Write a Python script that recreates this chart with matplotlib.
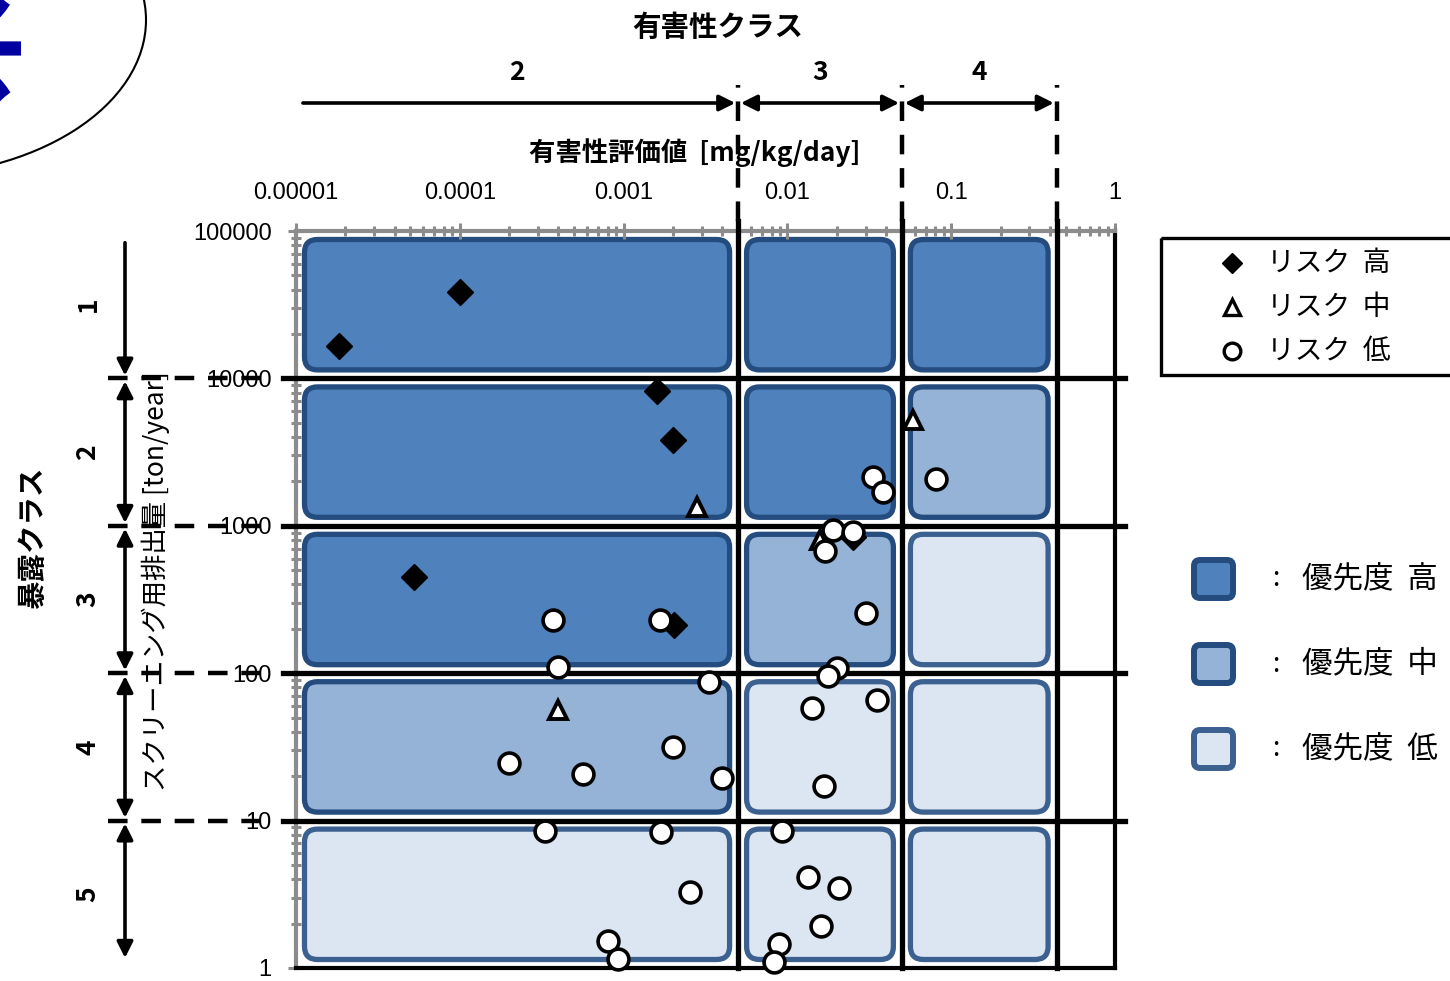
import numpy as np
import matplotlib
matplotlib.use("Agg")
import matplotlib.pyplot as plt
from matplotlib.patches import FancyBboxPatch, Ellipse, Rectangle
from matplotlib.transforms import IdentityTransform, blended_transform_factory

plt.rcParams["font.family"] = ["Noto Sans CJK JP", "DejaVu Sans"]

# hazard value [mg/kg/day] and screening emission [ton/year] per substance
high_x = [1.83e-5, 1.0e-4, 1.6e-3, 2.0e-3, 5.25e-5, 2.03e-3, 0.0251]
high_y = [16600, 38500, 8200, 3820, 450, 212, 840]

mid_x = [2.81e-3, 3.98e-4, 0.0585, 0.0158]
mid_y = [1343, 56, 5220, 802]

low_x = [3.71e-4, 1.67e-3, 3.98e-4, 3.32e-3, 2.0e-3, 2.0e-4, 5.65e-4, 3.99e-3,
         3.31e-4, 1.69e-3, 2.54e-3, 8.04e-4, 9.25e-4,
         0.0333, 0.0384, 0.0807, 0.0190, 0.0251, 0.0170, 0.0302, 0.0201,
         0.0177, 0.0141, 0.0352, 0.0167,
         9.27e-3, 0.01337, 0.02066, 0.01603, 8.89e-3, 8.28e-3]
low_y = [230, 230, 110, 87, 31.6, 24.6, 20.7, 19.5,
         8.5, 8.4, 3.28, 1.52, 1.15,
         2140, 1694, 2080, 937, 908, 675, 256, 108,
         95.7, 58, 65.8, 17.2,
         8.5, 4.14, 3.49, 1.93, 1.46, 1.10]

hazard_bounds = [1e-5, 0.005, 0.05, 0.44]
hazard_classes = ["2", "3", "4"]
exposure_bounds = [1e5, 1e4, 1e3, 100, 10, 1]
exposure_classes = ["1", "2", "3", "4", "5"]

# priority per cell (rows: exposure class, cols: hazard class) 0=high 1=mid 2=low
priority = [
    [0, 0, 0],
    [0, 0, 1],
    [0, 1, 2],
    [1, 2, 2],
    [2, 2, 2],
]
priority_fill = ["#4F81BD", "#95B3D7", "#DCE6F2"]
priority_edge = ["#244C7E", "#244C7E", "#3C6190"]
priority_labels = ["優先度  高", "優先度  中", "優先度  低"]
risk_labels = ["リスク  高", "リスク  中", "リスク  低"]

W, H = 1450, 981
fig = plt.figure(figsize=(W / 100, H / 100), dpi=100)
ax = fig.add_axes([296 / W, 1 - 968 / H, 819 / W, 737 / H])
ax.set_xscale("log")
ax.set_yscale("log")
ax.set_xlim(1e-5, 1)
ax.set_ylim(1, 1e5)
ax.set_facecolor("none")

gray = "#8C8C8C"
ax.xaxis.tick_top()
ax.set_xticks([1e-5, 1e-4, 1e-3, 1e-2, 1e-1, 1])
ax.set_xticklabels([np.format_float_positional(v, trim="-") for v in [1e-5, 1e-4, 1e-3, 1e-2, 1e-1, 1]])
ax.set_yticks([1, 10, 100, 1e3, 1e4, 1e5])
ax.set_yticklabels(["1", "10", "100", "1000", "10000", "100000"])
ax.tick_params(which="both", direction="inout", color=gray, width=2.2,
               labelsize=17, labelfontfamily="Liberation Sans")
ax.tick_params(which="major", length=11)
ax.tick_params(which="minor", length=7)
ax.tick_params(axis="x", pad=14)
ax.tick_params(axis="y", pad=12)
for side in ["top", "left"]:
    ax.spines[side].set_color(gray)
    ax.spines[side].set_linewidth(3)
for side in ["bottom", "right"]:
    ax.spines[side].set_color("black")
    ax.spines[side].set_linewidth(3)

# rounded priority cells, drawn in pixels so the corners stay round
inset = 8.5
for r in range(5):
    for c in range(3):
        x0, y0 = ax.transData.transform((hazard_bounds[c], exposure_bounds[r + 1]))
        x1, y1 = ax.transData.transform((hazard_bounds[c + 1], exposure_bounds[r]))
        p = priority[r][c]
        box = FancyBboxPatch((x0 + inset, y0 + inset), x1 - x0 - 2 * inset, y1 - y0 - 2 * inset,
                             boxstyle="round,pad=0,rounding_size=13",
                             transform=IdentityTransform(), clip_on=False,
                             facecolor=priority_fill[p], edgecolor=priority_edge[p],
                             linewidth=3.8, zorder=1)
        ax.add_patch(box)

fx = blended_transform_factory(ax.transData, ax.transAxes)
fy = blended_transform_factory(ax.transAxes, ax.transData)

# class boundaries
dash = (4.4, 3.1)
for b in hazard_bounds[1:]:
    ax.plot([b, b], [0, 1.013], transform=fx, color="black", lw=3.8, clip_on=False, zorder=3)
    ax.plot([b, b], [1.013, 1.198], transform=fx, color="black", lw=3.2,
            dashes=dash, clip_on=False, zorder=3)
for b in exposure_bounds[1:-1]:
    ax.plot([-0.016, 1.012], [b, b], transform=fy, color="black", lw=3.8, clip_on=False, zorder=3)
    ax.plot([-0.2295, -0.035], [b, b], transform=fy, color="black", lw=3.2,
            dashes=dash, clip_on=False, zorder=3)

arrow_kw = dict(color="black", lw=2.6, mutation_scale=24, shrinkA=2, shrinkB=2)
y_arr = (968 - 103) / 737
for i, name in enumerate(hazard_classes):
    lo, hi = hazard_bounds[i], hazard_bounds[i + 1]
    style = "-|>" if i == 0 else "<|-|>"
    start = lo * 1.06 if i == 0 else lo
    ax.annotate("", xy=(hi, y_arr), xytext=(start, y_arr), xycoords=fx, textcoords=fx,
                arrowprops=dict(arrowstyle=style, **arrow_kw), annotation_clip=False)
    ax.text(np.sqrt(lo * hi), (968 - 72) / 737, name, transform=fx, ha="center", va="center",
            fontsize=19, fontweight="bold")

x_arr = (125 - 296) / 819
for i, name in enumerate(exposure_classes):
    hi, lo = exposure_bounds[i], exposure_bounds[i + 1]
    style = "-|>" if i == 0 else "<|-|>"
    start = hi / 1.15 if i == 0 else hi
    end = lo * 1.12 if i == 4 else lo
    ax.annotate("", xy=(x_arr, end), xytext=(x_arr, start), xycoords=fy, textcoords=fy,
                arrowprops=dict(arrowstyle=style, **arrow_kw), annotation_clip=False)
    ax.text((88 - 296) / 819, np.sqrt(lo * hi), name, transform=fy, ha="center", va="center",
            fontsize=19, fontweight="bold", rotation=90)

ax.plot(high_x, high_y, "D", ms=13.5, color="black", zorder=5, clip_on=False)
ax.plot(mid_x, mid_y, "^", ms=13, mfc="white", mec="black", mew=2.8, zorder=6, clip_on=False)
ax.plot(low_x, low_y, "o", ms=15, mfc="white", mec="black", mew=2.6, zorder=7, clip_on=False)

# titles and legends in pixel coordinates
lay = fig.add_axes([0, 0, 1, 1], zorder=5)
lay.set_xlim(0, W)
lay.set_ylim(H, 0)
lay.axis("off")

lay.text(718, 28, "有害性クラス", ha="center", va="center", fontsize=20.5, fontweight="bold")
lay.text(695, 153, "有害性評価値  [mg/kg/day]", ha="center", va="center", fontsize=19, fontweight="bold")
lay.text(33, 538, "暴露クラス", ha="center", va="center", fontsize=20.5, fontweight="bold", rotation=90)
lay.text(156, 581, "スクリーニング用排出量 [ton/year]", ha="center", va="center", fontsize=19,
         rotation=90)

lay.add_patch(Ellipse((-100, 20), 492, 313, fill=False, edgecolor="black", lw=1.5, clip_on=False))
lay.text(-22, 46, "木", ha="center", va="center", fontsize=80, fontweight="bold",
         color="#0000A0", rotation=90, clip_on=False)

lay.add_patch(Rectangle((1161, 238), 330, 137, fill=False, edgecolor="black", lw=2.4, clip_on=False))
risk_markers = [dict(marker="D", ms=10, color="black"),
                dict(marker="^", ms=11, mfc="white", mec="black", mew=2.4),
                dict(marker="o", ms=12, mfc="white", mec="black", mew=2.4)]
for i, (lab, mk) in enumerate(zip(risk_labels, risk_markers)):
    yy = 263 + 44 * i
    lay.plot([1232], [yy], linestyle="none", **mk)
    lay.text(1267, yy, lab, ha="left", va="center", fontsize=20)

for i, lab in enumerate(priority_labels):
    yy = 579 + 85 * i
    lay.add_patch(FancyBboxPatch((1194, yy - 19), 39, 38, boxstyle="round,pad=0,rounding_size=6",
                                 facecolor=priority_fill[i], edgecolor=priority_edge[i], lw=4.3))
    lay.text(1276, yy, ":", ha="center", va="center", fontsize=19)
    lay.text(1302, yy, lab, ha="left", va="center", fontsize=22)

fig.savefig("out.png", dpi=100)
